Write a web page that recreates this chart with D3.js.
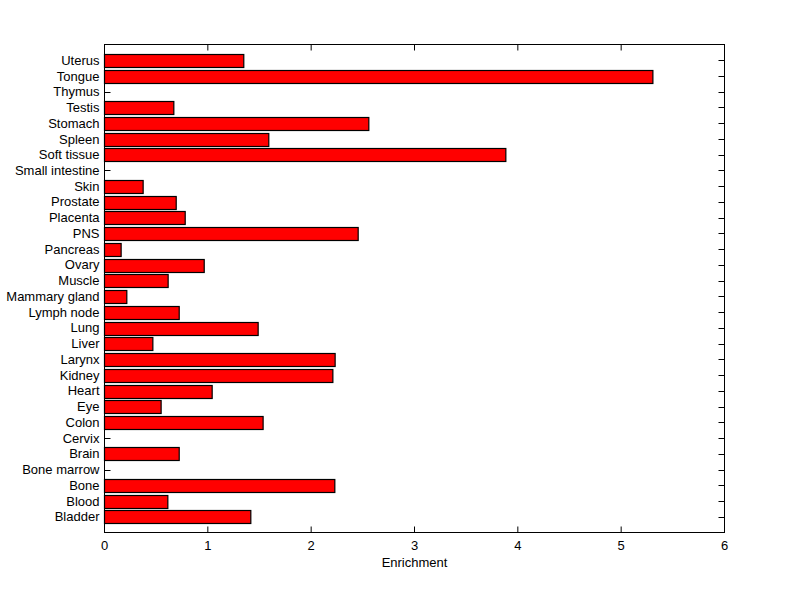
<!DOCTYPE html>
<html>
<head>
<meta charset="utf-8">
<script src="https://cdn.jsdelivr.net/npm/d3@7/dist/d3.min.js"></script>
<style>
  html, body { margin: 0; padding: 0; background: #fff; }
  svg text { font-family: "Liberation Sans", Arial, Helvetica, sans-serif; font-size: 13px; fill: #000; }
</style>
</head>
<body>
<svg id="chart" width="800" height="599"></svg>
<script>
const categories = ["Bladder","Blood","Bone","Bone marrow","Brain","Cervix","Colon","Eye","Heart","Kidney",
  "Larynx","Liver","Lung","Lymph node","Mammary gland","Muscle","Ovary","Pancreas","PNS","Placenta",
  "Prostate","Skin","Small intestine","Soft tissue","Spleen","Stomach","Testis","Thymus","Tongue","Uterus"];
const enrichment = [1.416,0.613,2.229,0,0.723,0,1.535,0.548,1.042,2.21,
  2.232,0.468,1.487,0.723,0.216,0.616,0.965,0.161,2.455,0.781,
  0.694,0.374,0,3.884,1.59,2.558,0.671,0,5.307,1.348];
const xTicks = [0,1,2,3,4,5,6];
const xLabel = "Enrichment";

(function () {
const svg = d3.select("#chart");
const mLeft = 104.5, mRight = 724.5, mTop = 44.5, mBottom = 532.5;

const x = d3.scaleLinear().domain([0, 6]).range([mLeft, mRight]);
const y = d3.scaleBand().domain(categories.slice().reverse()).range([mTop, mBottom])
  .paddingInner(0.2).paddingOuter(0.6);

const tickLen = 6;
const g = svg.append("g");

// inward ticks
xTicks.forEach(t => {
  g.append("line").attr("x1", x(t)).attr("x2", x(t)).attr("y1", mBottom).attr("y2", mBottom - tickLen)
    .attr("stroke", "#000");
  g.append("line").attr("x1", x(t)).attr("x2", x(t)).attr("y1", mTop).attr("y2", mTop + tickLen)
    .attr("stroke", "#000");
});
categories.forEach(c => {
  const yy = Math.round(y(c) + y.bandwidth() / 2) + 0.5;
  g.append("line").attr("x1", mLeft).attr("x2", mLeft + tickLen).attr("y1", yy).attr("y2", yy).attr("stroke", "#000");
  g.append("line").attr("x1", mRight).attr("x2", mRight - tickLen).attr("y1", yy).attr("y2", yy).attr("stroke", "#000");
});

// bars
g.selectAll("rect.bar").data(categories.map((c, i) => ({c, v: enrichment[i]})).filter(d => d.v > 0))
  .enter().append("rect").attr("class", "bar")
  .attr("x", x(0))
  .attr("y", d => Math.round(y(d.c)) + 0.5)
  .attr("width", d => x(d.v) - x(0))
  .attr("height", Math.round(y.bandwidth()))
  .attr("fill", "#ff0000").attr("stroke", "#000").attr("stroke-width", 1.2);

// frame
g.append("rect").attr("x", mLeft).attr("y", mTop).attr("width", mRight - mLeft).attr("height", mBottom - mTop)
  .attr("fill", "none").attr("stroke", "#000").attr("stroke-width", 1);

// tick labels
xTicks.forEach(t => {
  g.append("text").attr("x", x(t)).attr("y", 550).attr("text-anchor", "middle").text(t);
});
categories.forEach(c => {
  g.append("text").attr("x", mLeft - 5).attr("y", y(c) + y.bandwidth() / 2).attr("dy", "0.35em")
    .attr("text-anchor", "end").text(c);
});

g.append("text").attr("x", (mLeft + mRight) / 2).attr("y", 567).attr("text-anchor", "middle").text(xLabel);
})();
</script>
</body>
</html>
